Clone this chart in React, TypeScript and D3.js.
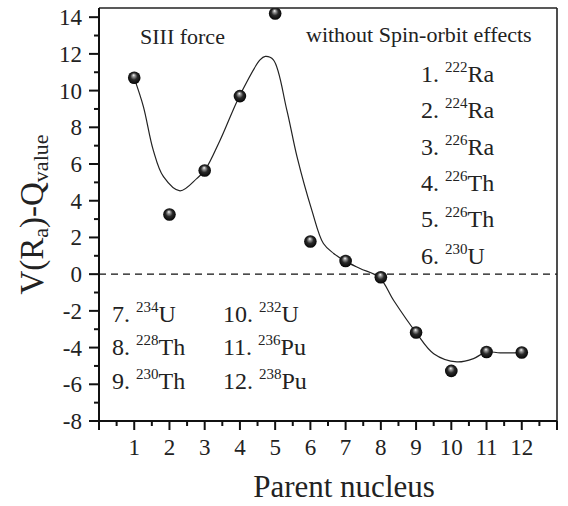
import React from 'react';
import * as d3 from 'd3';

const W = 568;
const H = 506;

// Data points (parent nucleus index -> V(Ra)-Qvalue)
const nucleus = [1, 2, 3, 4, 5, 6, 7, 8, 9, 10, 11, 12];
const values = [10.7, 3.25, 5.65, 9.7, 14.2, 1.78, 0.72, -0.17, -3.18, -5.27, -4.24, -4.27];

// Fitted smooth curve
const fitX = [1.0, 1.26, 1.54, 1.83, 2.3, 2.78, 3.01, 3.44, 3.99, 4.57, 4.72, 4.95, 5.33, 5.62, 6.04, 6.37, 6.66, 6.99, 7.41, 7.96, 8.36, 9.0, 9.5, 10.16, 10.63, 10.99, 11.39, 12.0];
const fitY = [10.68, 9.13, 6.76, 5.31, 4.54, 5.22, 5.67, 7.31, 9.71, 11.67, 11.86, 11.67, 8.95, 6.4, 3.49, 1.67, 1.13, 0.71, 0.31, -0.18, -1.42, -3.18, -4.33, -4.78, -4.6, -4.24, -4.29, -4.27];

const xTickLabels = ['1', '2', '3', '4', '5', '6', '7', '8', '9', '10', '11', '12'];
const yTickLabels = ['-8', '-6', '-4', '-2', '0', '2', '4', '6', '8', '10', '12', '14'];

const legendNumA = ['1.', '2.', '3.', '4.', '5.', '6.'];
const legendMassA = ['222', '224', '226', '226', '226', '230'];
const legendElemA = ['Ra', 'Ra', 'Ra', 'Th', 'Th', 'U'];

const legendNumB = ['7.', '8.', '9.', '10.', '11.', '12.'];
const legendMassB = ['234', '228', '230', '232', '236', '238'];
const legendElemB = ['U', 'Th', 'Th', 'U', 'Pu', 'Pu'];

const FONT = '"Liberation Serif", "Times New Roman", Times, serif';

export default function App() {
  const left = 99, right = 557, top = 8, bottom = 421;
  const x = d3.scaleLinear().domain([0, 13]).range([left, right]);
  const y = d3.scaleLinear().domain([-8, 14.5]).range([bottom, top]);

  const line = d3
    .line<number>()
    .x((_, i) => x(fitX[i]))
    .y((d) => y(d))
    .curve(d3.curveCatmullRom.alpha(0.5));

  const xMajor = d3.range(0, 14);
  const xMinor = d3.range(0.5, 13, 1);
  const yMajor = yTickLabels.map(Number);
  const yMinor = d3.range(-7, 14, 2);

  const legendItem = (num: string, mass: string, el: string, px: number, py: number, key: string) => (
    <text key={key} x={px} y={py} fontSize={24} fontFamily={FONT} fill="#222">
      {num}
      <tspan dx={6} dy={-10} fontSize={15}>{mass}</tspan>
      <tspan dy={10} fontSize={24}>{el}</tspan>
    </text>
  );

  return (
    <svg
      width={W}
      height={H}
      style={{ position: 'absolute', left: 0, top: 0, background: '#fff' }}
      fontFamily={FONT}
    >
      <defs>
        <radialGradient id="ball" cx="50%" cy="50%" r="55%" fx="45%" fy="28%">
          <stop offset="0%" stopColor="#ffffff" />
          <stop offset="18%" stopColor="#a0a0a0" />
          <stop offset="50%" stopColor="#2a2a2a" />
          <stop offset="100%" stopColor="#000000" />
        </radialGradient>
        <clipPath id="plotClip">
          <rect x={left} y={top} width={right - left} height={bottom - top} />
        </clipPath>
      </defs>
      <rect width={W} height={H} fill="#fff" />

      {/* zero line */}
      <line x1={left} x2={right} y1={y(0)} y2={y(0)} stroke="#111" strokeWidth={1.4} strokeDasharray="7,5" />

      {/* fit curve */}
      <path d={line(fitY) || ''} fill="none" stroke="#222" strokeWidth={1.2} clipPath="url(#plotClip)" />

      {/* points */}
      <g clipPath="url(#plotClip)">
        {values.map((v, i) => (
          <circle key={i} cx={x(nucleus[i])} cy={y(v)} r={6.3} fill="url(#ball)" />
        ))}
      </g>

      {/* frame */}
      <line x1={left} x2={right} y1={top} y2={top} stroke="#222" strokeWidth={1.6} />
      <line x1={right} x2={right} y1={top} y2={bottom} stroke="#222" strokeWidth={1.6} />
      <line x1={left} x2={left} y1={top} y2={bottom} stroke="#111" strokeWidth={2} />
      <line x1={left} x2={right} y1={bottom} y2={bottom} stroke="#111" strokeWidth={2} />

      {/* x ticks */}
      {xMajor.map((t) => (
        <line key={'xM' + t} x1={x(t)} x2={x(t)} y1={bottom} y2={bottom + 9} stroke="#111" strokeWidth={2} />
      ))}
      {xMinor.map((t) => (
        <line key={'xm' + t} x1={x(t)} x2={x(t)} y1={bottom} y2={bottom + 5} stroke="#111" strokeWidth={2} />
      ))}
      {xTickLabels.map((lab, i) => (
        <text key={'xl' + lab} x={x(i + 1)} y={455} textAnchor="middle" fontSize={23} fill="#222">
          {lab}
        </text>
      ))}

      {/* y ticks */}
      {yMajor.map((t) => (
        <line key={'yM' + t} x1={left - 10} x2={left} y1={y(t)} y2={y(t)} stroke="#111" strokeWidth={2} />
      ))}
      {yMinor.map((t) => (
        <line key={'ym' + t} x1={left - 5} x2={left} y1={y(t)} y2={y(t)} stroke="#111" strokeWidth={2} />
      ))}
      {yTickLabels.map((lab) => (
        <text key={'yl' + lab} x={82} y={y(Number(lab))} dy="0.35em" textAnchor="end" fontSize={23} fill="#222">
          {lab}
        </text>
      ))}

      {/* axis titles */}
      <text x={344} y={497} textAnchor="middle" fontSize={31} fill="#222">
        Parent nucleus
      </text>
      <text transform={`translate(43,${(top + bottom) / 2}) rotate(-90)`} textAnchor="middle" fontSize={33} fill="#222">
        V(R<tspan dy={5} fontSize={22}>a</tspan>
        <tspan dy={-5}>)-Q</tspan>
        <tspan dy={5} fontSize={22}>value</tspan>
      </text>

      {/* annotations */}
      <text x={140} y={44} fontSize={22} fill="#222">SIII force</text>
      <text x={306} y={42} fontSize={22} fill="#222">without Spin-orbit effects</text>

      {legendNumA.map((n, i) => legendItem(n, legendMassA[i], legendElemA[i], 421, 82 + i * 36.3, 'a' + i))}
      {legendNumB.map((n, i) =>
        legendItem(n, legendMassB[i], legendElemB[i], i < 3 ? 112 : 223, 322 + (i % 3) * 33.3, 'b' + i)
      )}
    </svg>
  );
}
